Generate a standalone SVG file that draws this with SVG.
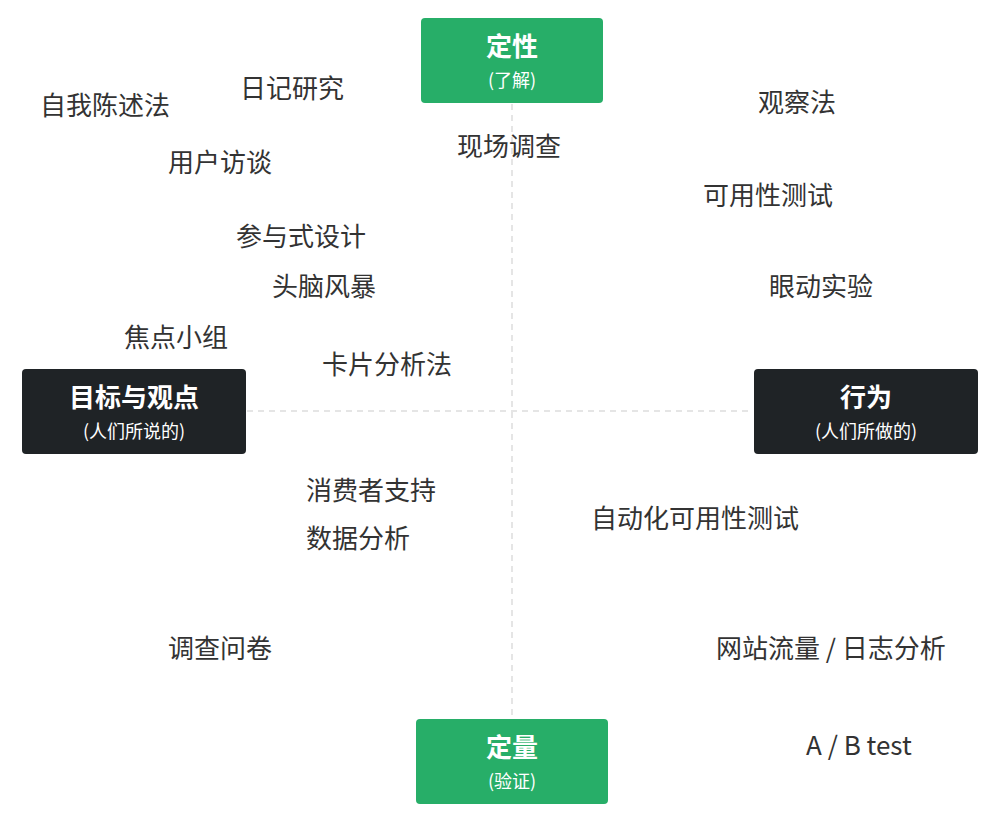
<svg xmlns="http://www.w3.org/2000/svg" width="1000" height="825" viewBox="0 0 1000 825">
<style>
.t{font-family:"Noto Sans CJK SC","Noto Sans",sans-serif;font-size:26px;fill:#333}
.h{font-family:"Noto Sans CJK SC","Noto Sans",sans-serif;font-size:26px;font-weight:bold;fill:#fff;text-anchor:middle}
.s{font-family:"Noto Sans CJK SC","Noto Sans",sans-serif;font-size:18px;fill:#fff;text-anchor:middle}
.g{fill:#27ae68}.k{fill:#1f2326}
.ax{stroke:#ddd;stroke-width:1.5;stroke-dasharray:6 5;fill:none}
</style>
<rect width="1000" height="825" fill="#fff"/>
<g id="connectors">
<line class="ax" x1="512" y1="104" x2="512" y2="718"/>
<line class="ax" x1="247" y1="411" x2="753" y2="411"/>
</g>
<g id="top"><rect class="g" x="421" y="18" width="182" height="85" rx="4"/><text class="h" x="512" y="56">定性</text><text class="s" x="512" y="87">(了解)</text></g>
<g id="bottom"><rect class="g" x="416" y="719" width="192" height="85" rx="4"/><text class="h" x="512" y="757">定量</text><text class="s" x="512" y="788">(验证)</text></g>
<g id="left"><rect class="k" x="22" y="369" width="224" height="85" rx="4"/><text class="h" x="134" y="407">目标与观点</text><text class="s" x="134" y="438">(人们所说的)</text></g>
<g id="right"><rect class="k" x="754" y="369" width="224" height="85" rx="4"/><text class="h" x="866" y="407">行为</text><text class="s" x="866" y="438">(人们所做的)</text></g>
<g id="labels">
<text class="t" x="40" y="115">自我陈述法</text>
<text class="t" x="240" y="98">日记研究</text>
<text class="t" x="168" y="172">用户访谈</text>
<text class="t" x="457" y="156">现场调查</text>
<text class="t" x="758" y="112">观察法</text>
<text class="t" x="703" y="205">可用性测试</text>
<text class="t" x="236" y="246">参与式设计</text>
<text class="t" x="272" y="296">头脑风暴</text>
<text class="t" x="769" y="296">眼动实验</text>
<text class="t" x="124" y="347">焦点小组</text>
<text class="t" x="322" y="374">卡片分析法</text>
<text class="t" x="306" y="500">消费者支持</text>
<text class="t" x="306" y="548">数据分析</text>
<text class="t" x="591" y="528">自动化可用性测试</text>
<text class="t" x="168" y="658">调查问卷</text>
<text class="t" x="716" y="658">网站流量 / 日志分析</text>
<text class="t" x="806" y="755">A / B test</text>
</g>
</svg>
